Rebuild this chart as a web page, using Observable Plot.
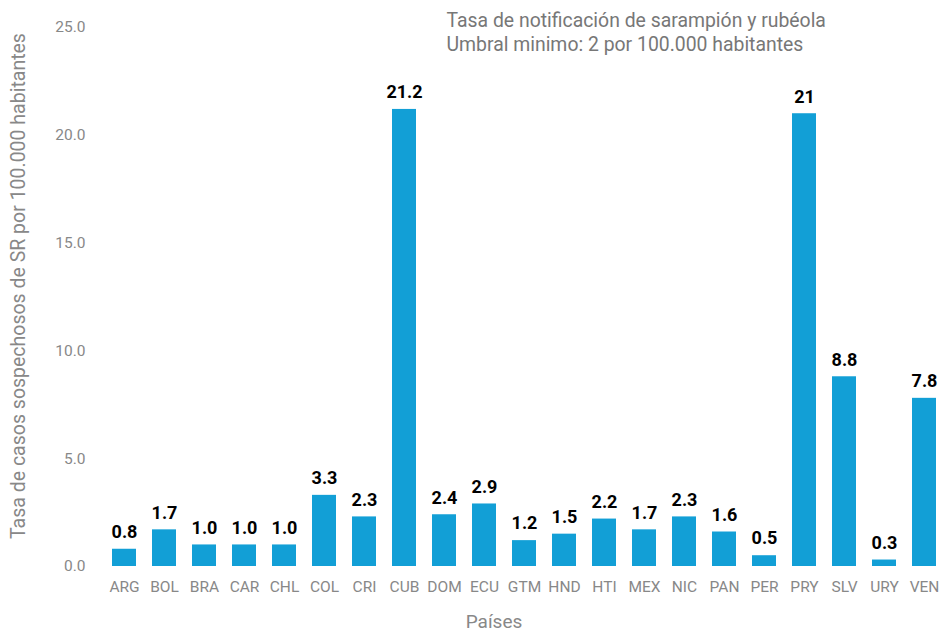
<!DOCTYPE html>
<html>
<head>
<meta charset="utf-8">
<script src="https://cdn.jsdelivr.net/npm/d3@7"></script>
<script src="https://cdn.jsdelivr.net/npm/@observablehq/plot@0.6"></script>
<style>
  html, body { margin: 0; padding: 0; background: #fff; }
  #chart { width: 944px; height: 631px; }
</style>
</head>
<body>
<div id="chart"></div>
<script>
const countries = ["ARG","BOL","BRA","CAR","CHL","COL","CRI","CUB","DOM","ECU","GTM","HND","HTI","MEX","NIC","PAN","PER","PRY","SLV","URY","VEN"];
const rates = [0.8,1.7,1.0,1.0,1.0,3.3,2.3,21.2,2.4,2.9,1.2,1.5,2.2,1.7,2.3,1.6,0.5,21,8.8,0.3,7.8];
const rateLabels = ["0.8","1.7","1.0","1.0","1.0","3.3","2.3","21.2","2.4","2.9","1.2","1.5","2.2","1.7","2.3","1.6","0.5","21","8.8","0.3","7.8"];
const yTicks = [0,5,10,15,20,25];
const titleLines = ["Tasa de notificación de sarampión y rubéola", "Umbral minimo: 2 por 100.000 habitantes"];
const yLabel = "Tasa de casos sospechosos de SR por 100.000 habitantes";
const xLabel = "Países";

const data = countries.map((c, i) => ({country: c, rate: rates[i], label: rateLabels[i]}));

const chart = Plot.plot({
  width: 944,
  height: 631,
  marginTop: 27,
  marginBottom: 65,
  marginLeft: 104,
  marginRight: 1,
  style: {fontFamily: "Roboto, sans-serif", background: "#fff"},
  x: {domain: countries, padding: 0.4, paddingOuter: 0.1, label: null},
  y: {domain: [0, 25], label: null},
  marks: [
    Plot.barY(data, {x: "country", y: "rate", fill: "#129fd6"}),
    Plot.text(data, {x: "country", y: "rate", text: "label", dy: -17, fill: "#000", fontWeight: "bold", fontSize: 18}),
    Plot.axisY({ticks: yTicks, tickFormat: d => d.toFixed(1), tickSize: 0, tickPadding: 19, fontSize: 15.5, color: "#888", label: null}),
    Plot.axisX({tickSize: 0, tickPadding: 14, fontSize: 15.5, color: "#888", label: null}),
    Plot.text([xLabel], {frameAnchor: "bottom", dx: -30, dy: 61, fontSize: 19, fill: "#888"}),
    Plot.text([yLabel], {frameAnchor: "left", dx: -86, dy: -11, textAnchor: "middle", rotate: -90, fontSize: 19.5, fill: "#888"}),
    Plot.text([titleLines.join("\n")], {frameAnchor: "top-left", dx: 342, dy: -18, textAnchor: "start", lineAnchor: "top", lineHeight: 1.24, fontSize: 19.4, fill: "#777"})
  ]
});
document.getElementById("chart").appendChild(chart);
</script>
</body>
</html>
